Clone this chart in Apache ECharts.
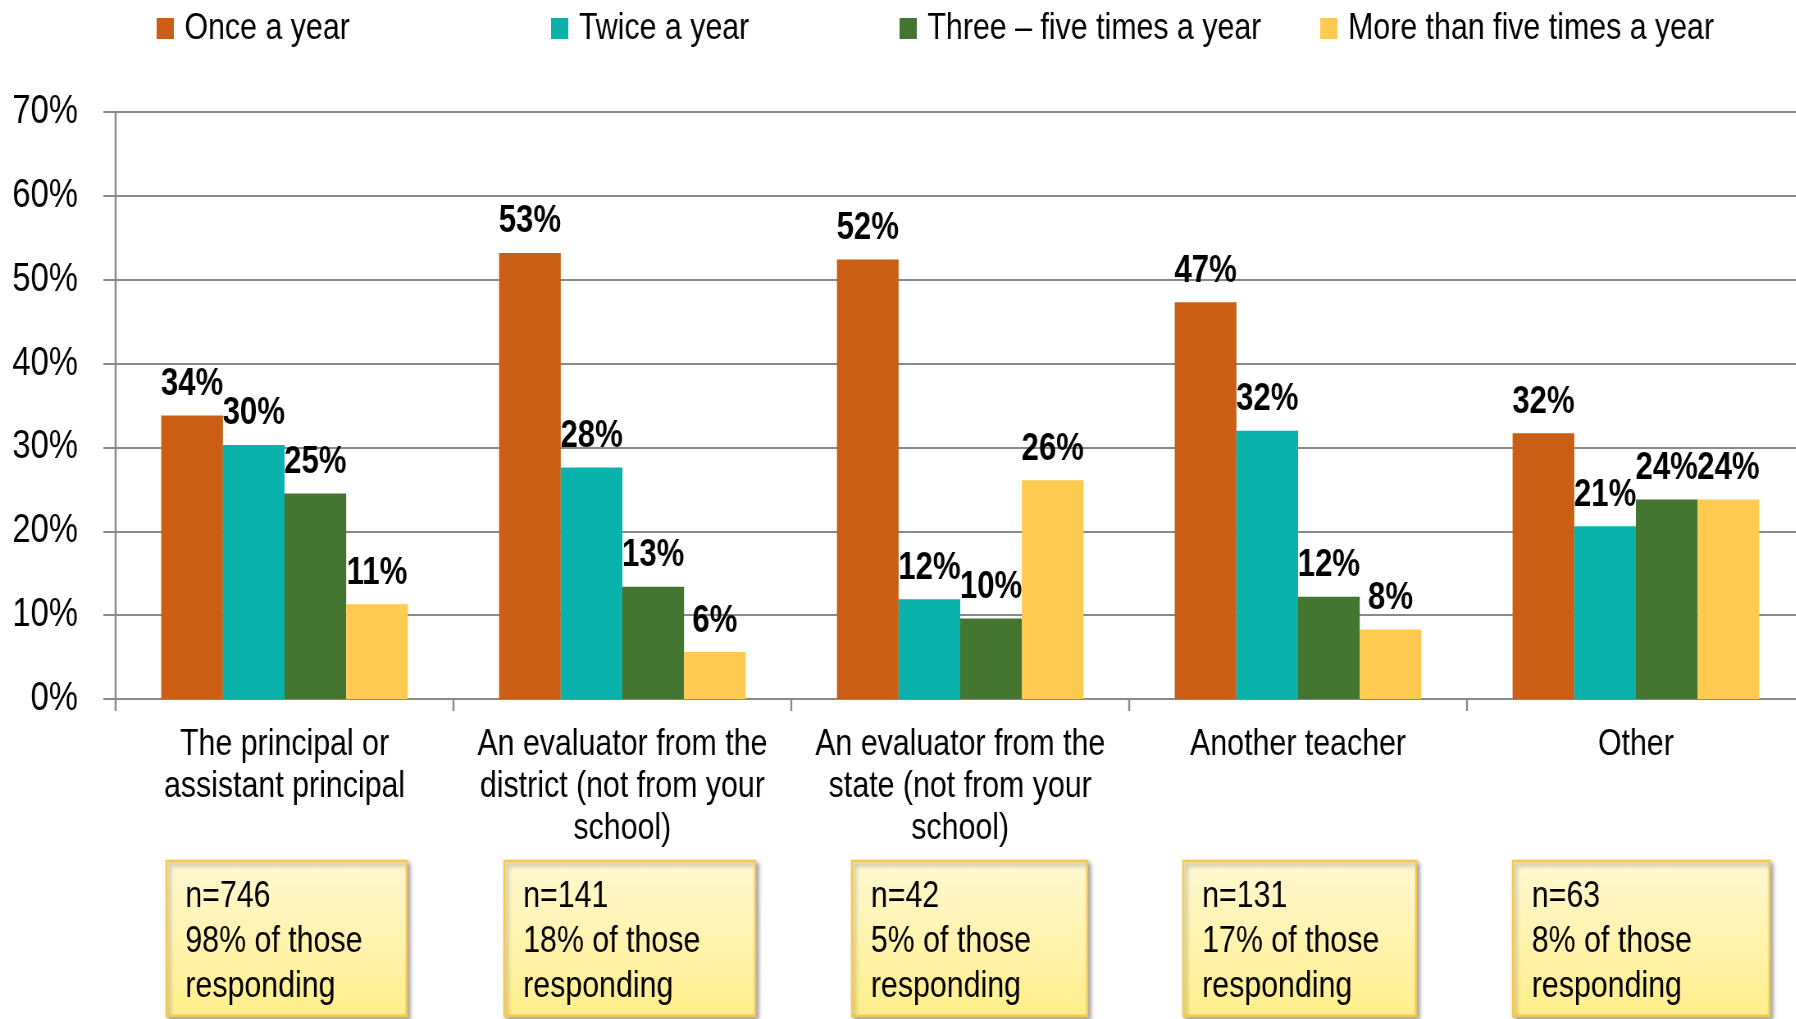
<!DOCTYPE html>
<html>
<head>
<meta charset="utf-8">
<script src="https://cdn.jsdelivr.net/npm/echarts@6/dist/echarts.min.js"></script>
<style>
  html, body { margin: 0; padding: 0; background: #fff; overflow: hidden; }
  /* the original uses a narrow face (Arial Narrow); draw wide and squeeze to 82% */
  #main { width: 2220px; height: 1019px; transform: scaleX(0.82); transform-origin: 0 0; }
</style>
</head>
<body>
<div id="main"></div>
<script>
var FONT = '"Liberation Sans", Arial, sans-serif';

// data
var categories = [
  'The principal or\nassistant principal',
  'An evaluator from the\ndistrict (not from your\nschool)',
  'An evaluator from the\nstate (not from your\nschool)',
  'Another teacher',
  'Other'
];
var seriesNames = ['Once a year', 'Twice a year', 'Three \u2013 five times a year', 'More than five times a year'];
var onceAYear = [33.8, 53.2, 52.4, 47.3, 31.7];
var twiceAYear = [30.3, 27.6, 11.9, 32.0, 20.6];
var threeToFive = [24.5, 13.4, 9.6, 12.2, 23.8];
var moreThanFive = [11.3, 5.6, 26.1, 8.3, 23.8];
var yTicks = [0, 10, 20, 30, 40, 50, 60, 70];
var boxN = ['n=746', 'n=141', 'n=42', 'n=131', 'n=63'];
var boxShare = ['98% of those', '18% of those', '5% of those', '17% of those', '8% of those'];

var colors = ['#C95E14', '#09B3AB', '#447531', '#FECA50'];
var seriesData = [onceAYear, twiceAYear, threeToFive, moreThanFive];
// legend item left edges (unsqueezed px)
var legendLeft = [186, 667, 1092, 1605];
// note box geometry (offset from category centre, width), unsqueezed px
var boxOffset = [2, 9, 11, 2, 6];
var boxWidth = [293, 306, 287, 284, 313];

var myChart = echarts.init(document.getElementById('main'));

var series = seriesNames.map(function (name, i) {
  return {
    name: name,
    type: 'bar',
    data: seriesData[i],
    itemStyle: { color: colors[i] },
    barGap: '0%',
    barCategoryGap: '27%',
    label: {
      show: true,
      position: 'top',
      distance: 12,
      fontFamily: FONT,
      fontWeight: 'bold',
      fontSize: 38,
      color: '#000',
      formatter: function (p) { return Math.round(p.value) + '%'; }
    }
  };
});

var legends = seriesNames.map(function (name, i) {
  return {
    data: [name],
    left: legendLeft[i],
    top: 5,
    itemWidth: 21,
    itemHeight: 21,
    itemGap: 12,
    icon: 'rect',
    textStyle: { fontFamily: FONT, fontSize: 37, color: '#000', padding: [0, 0, 0, 8] }
  };
});

var option = {
  animation: false,
  backgroundColor: '#fff',
  legend: legends,
  grid: { left: 141, right: 19, top: 112, bottom: 320, containLabel: false },
  xAxis: {
    type: 'category',
    data: categories,
    axisLine: { lineStyle: { color: '#8a8a8a', width: 2 } },
    axisTick: { show: true, length: 12, lineStyle: { color: '#8a8a8a', width: 2.4 } },
    axisLabel: {
      fontFamily: FONT, fontSize: 37, color: '#000',
      lineHeight: 42, margin: 25, interval: 0
    }
  },
  yAxis: {
    type: 'value',
    min: yTicks[0],
    max: yTicks[yTicks.length - 1],
    interval: 10,
    axisLine: { show: true, lineStyle: { color: '#8a8a8a', width: 2.4 } },
    axisTick: { show: true, length: 15, lineStyle: { color: '#8a8a8a', width: 2 } },
    splitLine: { lineStyle: { color: '#8a8a8a', width: 2 } },
    axisLabel: {
      fontFamily: FONT, fontSize: 40, color: '#000', margin: 46,
      formatter: '{value}%'
    }
  },
  series: series
};

myChart.setOption(option);

// note boxes under each category
var graphics = [];
categories.forEach(function (c, i) {
  var cx = myChart.convertToPixel({ xAxisIndex: 0 }, i) + boxOffset[i];
  var x0 = Math.round(cx - boxWidth[i] / 2);
  graphics.push({
    type: 'rect',
    shape: { x: x0, y: 861, width: boxWidth[i], height: 155 },
    style: {
      fill: new echarts.graphic.LinearGradient(0, 0, 0, 1, [
        { offset: 0, color: '#FFF8D4' },
        { offset: 1, color: '#FFEF8A' }
      ]),
      stroke: '#F8C84E',
      lineWidth: 2.4,
      shadowBlur: 5,
      shadowOffsetX: 3,
      shadowOffsetY: 3,
      shadowColor: 'rgba(0,0,0,0.35)'
    },
    z: 10
  });
  graphics.push({
    type: 'text',
    x: x0 + 23,
    y: 874,
    style: {
      text: boxN[i] + '\n' + boxShare[i] + '\nresponding',
      fontFamily: FONT,
      fontSize: 37,
      lineHeight: 45,
      fill: '#000'
    },
    z: 11
  });
});
myChart.setOption({ graphic: graphics });
</script>
</body>
</html>
